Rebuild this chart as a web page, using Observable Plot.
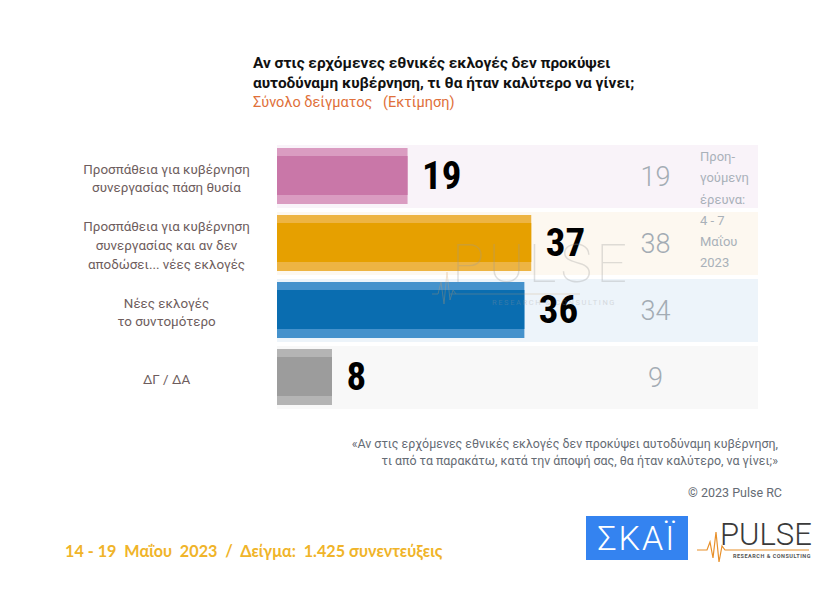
<!DOCTYPE html>
<html>
<head>
<meta charset="utf-8">
<script src="https://cdn.jsdelivr.net/npm/d3@7"></script>
<script src="https://cdn.jsdelivr.net/npm/@observablehq/plot@0.6"></script>
<style>
  html, body { margin: 0; padding: 0; background: #fff; }
  #page { position: relative; width: 826px; height: 601px; overflow: hidden; font-family: Roboto, "Noto Sans", sans-serif; }
  .abs { position: absolute; white-space: nowrap; }
  #title { left: 253px; top: 53px; font-weight: 700; font-size: 15.4px; line-height: 20px; color: #111; }
  #subtitle { left: 253px; top: 94px; font-size: 14.5px; color: #e0703a; }
  #plot { position: absolute; left: 0; top: 130px; }
  #prevnote { left: 700px; top: 146px; font-size: 13px; line-height: 21.3px; color: #a9b1b9; white-space: pre; }
  #foot { right: 48px; top: 435px; text-align: right; font-size: 12.4px; line-height: 17px; color: #656b74; }
  #copy { right: 44px; top: 485px; font-size: 12.5px; color: #656b74; }
  #date { left: 65px; top: 541px; font-family: Lato, sans-serif; font-weight: 700; font-size: 16.2px; color: #f0b429; }
  #skai { left: 586px; top: 516px; width: 102px; height: 44px; background: #3483f0; color: #fff; font-size: 34px; font-weight: 300; line-height: 44px; text-align: center; letter-spacing: 2px; }
  #pulse { left: 697px; top: 512px; width: 122px; height: 55px; }
  #wm { left: 430px; top: 232px; opacity: 0.3; pointer-events: none; }
</style>
</head>
<body>
<div id="page">
  <div id="title" class="abs">Αν στις ερχόμενες εθνικές εκλογές δεν προκύψει<br>αυτοδύναμη κυβέρνηση, τι θα ήταν καλύτερο να γίνει;</div>
  <div id="subtitle" class="abs">Σύνολο δείγματος&nbsp;&nbsp;&nbsp;(Εκτίμηση)</div>
  <div id="plot"></div>
  <div id="prevnote" class="abs">Προη-
γούμενη
έρευνα:
4 - 7
Μαΐου
2023</div>
  <div id="wm" class="abs">
    <svg width="200" height="78">
      <text x="22" y="50" font-family="Roboto" font-weight="100" font-size="54" fill="#9a9a9a" letter-spacing="4">PULSE</text>
      <line x1="20" y1="62" x2="150" y2="62" stroke="#c8a070" stroke-width="1"/>
      <text x="62" y="73" font-family="Roboto" font-size="7.5" fill="#9a9a9a" letter-spacing="1.6">RESEARCH &amp; CONSULTING</text>
      <polyline points="2,62 8,62 11,50 14,72 17,40 20,68 23,58 26,62" fill="none" stroke="#d9a060" stroke-width="1"/>
    </svg>
  </div>
  <div id="foot" class="abs">«Αν στις ερχόμενες εθνικές εκλογές δεν προκύψει αυτοδύναμη κυβέρνηση,<br>τι από τα παρακάτω, κατά την άποψή σας, θα ήταν καλύτερο, να γίνει;»</div>
  <div id="copy" class="abs">© 2023 Pulse RC</div>
  <div id="date" class="abs">14 - 19&nbsp; Μαΐου&nbsp; 2023&nbsp; /&nbsp; Δείγμα:&nbsp; 1.425 συνεντεύξεις</div>
  <div id="skai" class="abs">ΣΚΑΪ</div>
  <div id="pulse" class="abs">
    <svg width="122" height="55">
      <polyline points="0,38 10,38 13,30 16,46 19,20 22,50 25,34 28,38 40,38 112,38" fill="none" stroke="#e8902a" stroke-width="1.2"/>
      <text x="23" y="33" font-family="Roboto" font-weight="300" font-size="31" fill="#3a3a3a">PULSE</text>
      <text x="36" y="46" font-family="Roboto" font-weight="700" font-size="5.5" fill="#555" letter-spacing="0.5">RESEARCH &amp; CONSULTING</text>
    </svg>
  </div>
</div>
<script>
const categories = [
  "Προσπάθεια για κυβέρνηση\nσυνεργασίας πάση θυσία",
  "Προσπάθεια για κυβέρνηση\nσυνεργασίας και αν δεν\nαποδώσει... νέες εκλογές",
  "Νέες εκλογές\nτο συντομότερο",
  "ΔΓ / ΔΑ"
];
const current = [19, 37, 36, 8];
const previous = [19, 38, 34, 9];
const barColors = ["#c977a8", "#e6a000", "#0a6db0", "#9c9c9c"];
const stripeColors = ["#da9cc1", "#edb443", "#4592cc", "#b4b4b4"];
const bandColors = ["#f9f3f9", "#fdf8f0", "#edf4fa", "#f8f8f8"];

const rows = categories.map((c, i) => ({
  cat: c, cur: current[i], prev: previous[i],
  bar: barColors[i], stripe: stripeColors[i], band: bandColors[i]
}));

const numFont = "'Liberation Sans Narrow', 'Roboto Condensed', 'DejaVu Sans Condensed', Roboto, sans-serif";

const chart = Plot.plot({
  width: 826, height: 290,
  marginLeft: 277, marginRight: 68, marginTop: 13, marginBottom: 9,
  style: { fontFamily: "Roboto, sans-serif", background: "transparent" },
  x: { domain: [0, 70], axis: null },
  y: { domain: categories, axis: null, paddingInner: 0.06, paddingOuter: 0.03 },
  color: { type: "identity" },
  marks: [
    Plot.cell(rows, { y: "cat", fill: "band" }),
    Plot.barX(rows, { y: "cat", x: "cur", fill: "stripe", insetTop: 3, insetBottom: 4 }),
    Plot.barX(rows, { y: "cat", x: "cur", fill: "bar", insetTop: 11, insetBottom: 13 }),
    Plot.text(rows, { y: "cat", x: "cur", text: d => String(d.cur), dx: 14, textAnchor: "start",
      fontSize: 39, fontWeight: "bold", fontFamily: numFont, fill: "#000" }),
    Plot.text(rows, { y: "cat", frameAnchor: "right", dx: -103, text: d => String(d.prev), textAnchor: "middle",
      fontSize: 27, fontWeight: 300, fill: "#a3acb4" }),
    Plot.text(rows, { y: "cat", frameAnchor: "left", dx: -111, text: "cat", textAnchor: "middle",
      fontSize: 13.4, lineHeight: 1.4, fill: "#6e5d5d" })
  ]
});
document.getElementById("plot").appendChild(chart);
</script>
</body>
</html>
